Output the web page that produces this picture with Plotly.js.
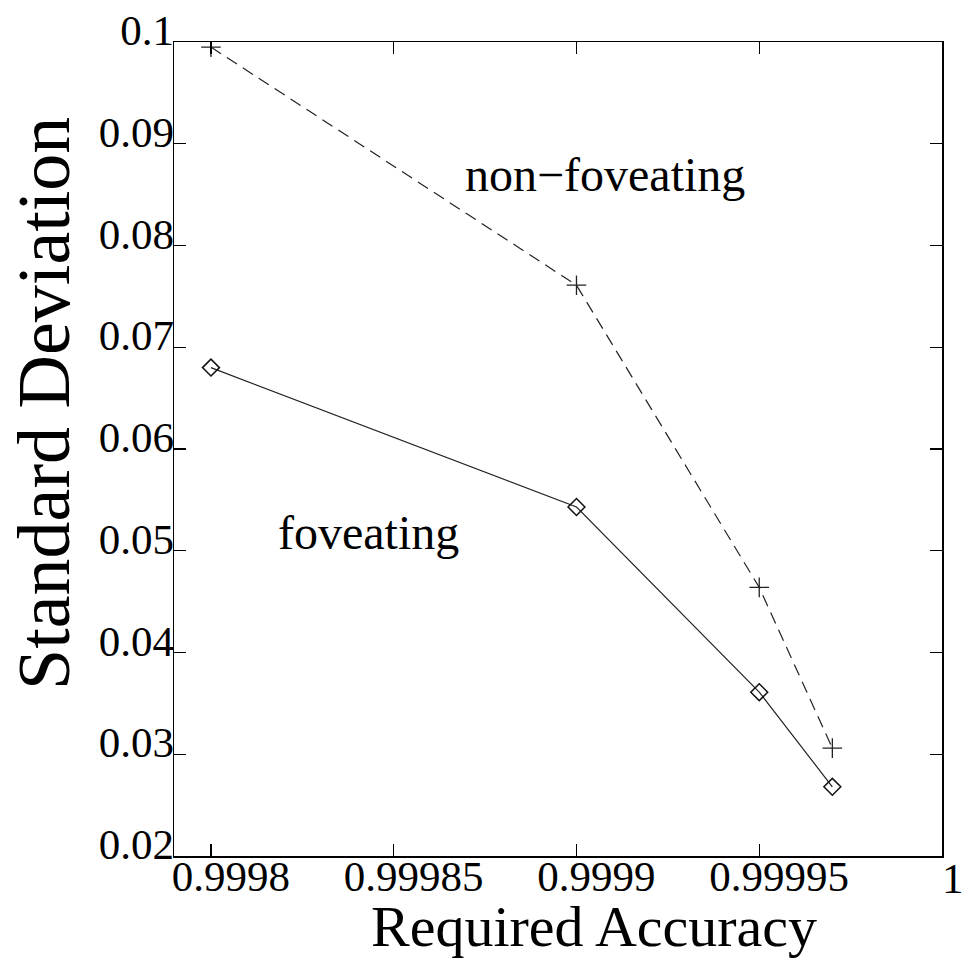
<!DOCTYPE html>
<html>
<head>
<meta charset="utf-8">
<script src="https://cdn.plot.ly/plotly-3.0.1.min.js"></script>
<style>html,body{margin:0;padding:0;background:#fff;}#chart{width:962px;height:961px;}</style>
</head>
<body>
<div id="chart"></div>
<script>
var accuracy = [0.9998, 0.9999, 0.99995, 0.99997];
var foveating = [0.0680, 0.0543, 0.0361, 0.0268];
var nonFoveating = [0.0995, 0.0761, 0.0464, 0.0306];
var xTicks = [0.9998, 0.99985, 0.9999, 0.99995, 1];
var xTickText = ['0.9998', '0.99985', '0.9999', '0.99995', '1'];
var yTicks = [0.02, 0.03, 0.04, 0.05, 0.06, 0.07, 0.08, 0.09, 0.1];
var yTickText = ['0.02', '0.03', '0.04', '0.05', '0.06', '0.07', '0.08', '0.09', '0.1'];
var xTitle = 'Required Accuracy';
var yTitle = 'Standard Deviation';

var serif = 'Liberation Serif, Times New Roman, serif';

// last x tick label sits at the right edge of the page; draw it as an annotation so it is not hidden
var shownXTickText = xTickText.map(function (t, i) { return i === xTickText.length - 1 ? '' : t; });

var traces = [
  {
    x: accuracy, y: nonFoveating, type: 'scatter', mode: 'lines+markers', name: 'non-foveating',
    line: {color: '#222', width: 1.2, dash: '12px,7px'},
    marker: {symbol: 'cross-thin-open', size: 14, line: {color: '#111', width: 1.3}}
  },
  {
    x: accuracy, y: foveating, type: 'scatter', mode: 'lines+markers', name: 'foveating',
    line: {color: '#222', width: 1.2},
    marker: {symbol: 'diamond-open', size: 13, color: '#111', line: {color: '#111', width: 1.5}}
  }
];

var layout = {
  width: 962, height: 961,
  margin: {l: 174, r: 20, t: 42, b: 105},
  paper_bgcolor: '#fff', plot_bgcolor: '#fff',
  showlegend: false,
  font: {family: serif, color: '#000'},
  xaxis: {
    range: [0.99978989, 1.0],
    tickvals: xTicks, ticktext: shownXTickText,
    ticks: 'inside', ticklen: 12, tickwidth: 1.3, tickcolor: '#000',
    showline: true, linecolor: '#000', linewidth: 1.5, mirror: 'ticks',
    showgrid: false, zeroline: false,
    tickfont: {family: serif, size: 43, color: '#000'},
    ticklabelshift: 20, ticklabelstandoff: -18
  },
  yaxis: {
    range: [0.02, 0.1],
    tickvals: yTicks, ticktext: yTickText,
    ticks: 'inside', ticklen: 12, tickwidth: 1.3, tickcolor: '#000',
    showline: true, linecolor: '#000', linewidth: 1.5, mirror: 'ticks',
    showgrid: false, zeroline: false,
    tickfont: {family: serif, size: 43, color: '#000'},
    ticklabelshift: -12, ticklabelstandoff: -10
  },
  annotations: [
    {x: 0.9999077, y: 0.0870, xref: 'x', yref: 'y', text: 'non\u2212foveating', showarrow: false,
     font: {family: serif, size: 48, color: '#000'}},
    {x: 0.999843, y: 0.0518, xref: 'x', yref: 'y', text: 'foveating', showarrow: false,
     font: {family: serif, size: 48, color: '#000'}},
    {x: (953 - 174) / 768, y: (856 - 878) / 814, xref: 'paper', yref: 'paper', xanchor: 'center', yanchor: 'middle',
     text: xTickText[xTickText.length - 1], showarrow: false,
     font: {family: serif, size: 43, color: '#000'}},
    {x: (594 - 174) / 768, y: (856 - 926) / 814, xref: 'paper', yref: 'paper', xanchor: 'center', yanchor: 'middle',
     text: xTitle, showarrow: false, borderpad: 0, font: {family: serif, size: 58, color: '#000'}},
    {x: (44 - 174) / 768, y: (856 - 404) / 814, xref: 'paper', yref: 'paper', xanchor: 'center', yanchor: 'middle',
     text: yTitle, textangle: -90, showarrow: false, borderpad: 0, font: {family: serif, size: 74, color: '#000'}}
  ]
};

Plotly.newPlot('chart', traces, layout, {displayModeBar: false, staticPlot: true});
</script>
</body>
</html>
